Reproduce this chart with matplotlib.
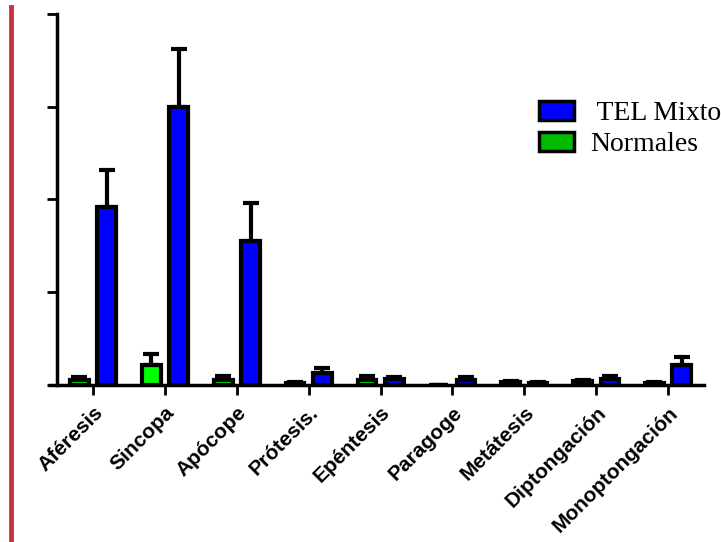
import matplotlib.pyplot as plt
import numpy as np
from matplotlib.patches import Patch
from matplotlib.lines import Line2D

categorias = ["Aféresis", "Sincopa", "Apócope", "Prótesis.", "Epéntesis",
              "Paragoge", "Metátesis", "Diptongación", "Monoptongación"]
tel_mixto = [1.92, 3.00, 1.55, 0.13, 0.07, 0.05, 0.02, 0.06, 0.22]
tel_mixto_err = [0.40, 0.62, 0.41, 0.05, 0.02, 0.04, 0.01, 0.04, 0.08]
normales = [0.05, 0.22, 0.05, 0.02, 0.05, 0.0, 0.03, 0.04, 0.02]
normales_err = [0.04, 0.11, 0.05, 0.01, 0.05, 0.0, 0.01, 0.01, 0.01]

fig = plt.figure(figsize=(7.21, 5.42), dpi=100)
ax = fig.add_axes([50/721, 157/542, 654/721, 371/542])

x = np.arange(len(categorias))
off = 0.19
w = 0.26

# barras con borde negro grueso
ax.bar(x - off, normales, w, color='#00ff00', edgecolor='black', linewidth=3, zorder=2)
ax.bar(x + off, tel_mixto, w, color='#0000ff', edgecolor='black', linewidth=3, zorder=2)
# solo la mitad superior del error
ax.errorbar(x - off, normales, yerr=[np.zeros(len(x)), normales_err], fmt='none',
            ecolor='black', elinewidth=3, capsize=6, capthick=3, zorder=3)
ax.errorbar(x + off, tel_mixto, yerr=[np.zeros(len(x)), tel_mixto_err], fmt='none',
            ecolor='black', elinewidth=3, capsize=6, capthick=3, zorder=3)

ax.set_xlim(-0.6, 8.5)
ax.set_ylim(0, 4)
ax.spines['left'].set_position(('data', -0.5))
for s in ['top', 'right']:
    ax.spines[s].set_visible(False)
ax.spines['left'].set_linewidth(2.5)
ax.spines['bottom'].set_linewidth(2.5)
ax.set_yticks([0, 1, 2, 3, 4])
ax.set_yticklabels([])
ax.tick_params(axis='y', length=7, width=2)
ax.set_xticks(x)
ax.set_xticklabels(categorias, rotation=45, ha='right', rotation_mode='anchor',
                   fontsize=15, family='Liberation Sans', fontweight='bold')
ax.tick_params(axis='x', length=7, width=2, pad=6)

handles = [Patch(facecolor='#0000ff', edgecolor='black', linewidth=2.5),
           Patch(facecolor='#00bb00', edgecolor='black', linewidth=2.5)]
ax.legend(handles, [" TEL Mixto", "Normales"], loc='upper left',
          bbox_to_anchor=(539/721, 1 - 101/542), bbox_transform=fig.transFigure,
          frameon=False, prop={'family': 'Liberation Serif', 'size': 20},
          handlelength=1.25, handleheight=0.7, handletextpad=0.6,
          labelspacing=0.2, borderaxespad=0, borderpad=0)

# linea roja del margen
fig.add_artist(Line2D([10.5/721, 10.5/721], [0, 1 - 7/542], transform=fig.transFigure,
                      color='#c8323c', linewidth=3.5))

fig.savefig('out.png', dpi=100)
